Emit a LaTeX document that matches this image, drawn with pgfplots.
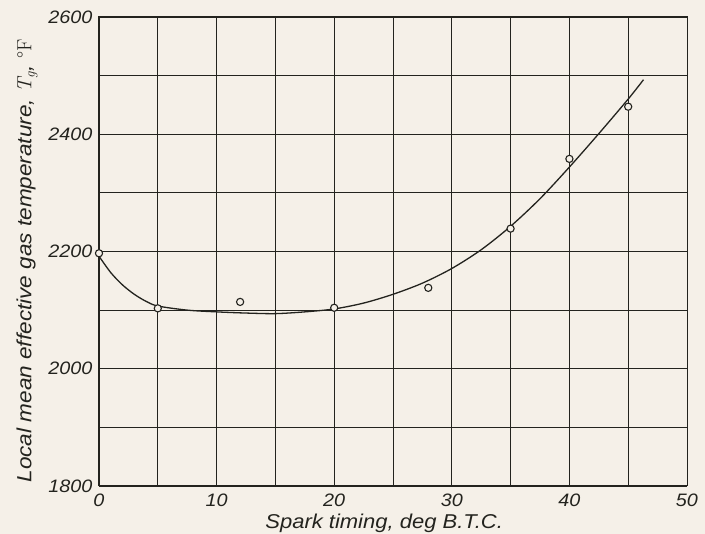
\documentclass[border=0pt]{standalone}
\usepackage{fontspec}
\setmainfont{Liberation Sans}[FakeStretch=1.1]
\newfontfamily\lmr{Latin Modern Roman}
\usepackage{pgfplots}
\pgfplotsset{compat=1.18}

\definecolor{paper}{RGB}{245,240,232}
\definecolor{ink}{RGB}{35,35,30}

\begin{document}
\begin{tikzpicture}
\path[use as bounding box, fill=paper] (-99pt,-48pt) rectangle (606pt,486pt);
\begin{axis}[
  at={(0,0)}, anchor=south west,
  scale only axis,
  width=588pt, height=469pt,
  xmin=0, xmax=50, ymin=1800, ymax=2600,
  xtick={0,10,...,50},
  minor xtick={5,15,...,45},
  ytick={1800,2000,...,2600},
  minor ytick={1900,2100,2300,2500},
  major tick length=0pt, minor tick length=0pt,
  grid=both,
  major grid style={draw=ink, line width=0.9pt},
  minor grid style={draw=ink, line width=0.9pt},
  axis line style={draw=ink, line width=1pt},
  /pgf/number format/assume math mode=true,
  /pgf/number format/1000 sep={},
  ticklabel style={font=\itshape\fontsize{18}{18}\selectfont, text=ink},
  xticklabel style={yshift=-4pt},
  yticklabel style={xshift=-3pt},
  xlabel={Spark timing, deg B.T.C.},
  ylabel={Local mean effective gas temperature, {\lmr\itshape T}\textsubscript{\lmr\itshape g}, {\lmr\upshape °F}},
  every axis x label/.style={at={(axis description cs:0.485,-0.0896)}, anchor=base,
    font=\itshape\fontsize{20}{20}\selectfont, text=ink},
  every axis y label/.style={at={(axis description cs:-0.1224,0.48)}, rotate=90, anchor=center,
    font=\itshape\fontsize{20.5}{20.5}\selectfont, text=ink},
]
% fitted curve
\addplot[ink, line width=1.3pt, smooth] coordinates {
  (0,2192) (1,2164) (2,2143) (3,2127) (4,2115) (5,2107) (7.5,2100)
  (10,2097) (12.5,2095) (15,2094) (17.5,2097) (20,2102) (22.5,2112)
  (25,2127) (27.5,2146) (30,2171) (32.5,2203) (35,2243) (37.5,2290)
  (40,2344) (42.5,2401) (45,2460) (46.3,2493)
};
% measured points
\addplot[only marks, mark=*, mark size=3.6pt,
  mark options={draw=ink, fill=paper, line width=1.1pt}] coordinates {
  (0,2197) (5,2103) (12,2114) (20,2104) (28,2138) (35,2239) (40,2358) (45,2447)
};
\end{axis}
\end{tikzpicture}
\end{document}
